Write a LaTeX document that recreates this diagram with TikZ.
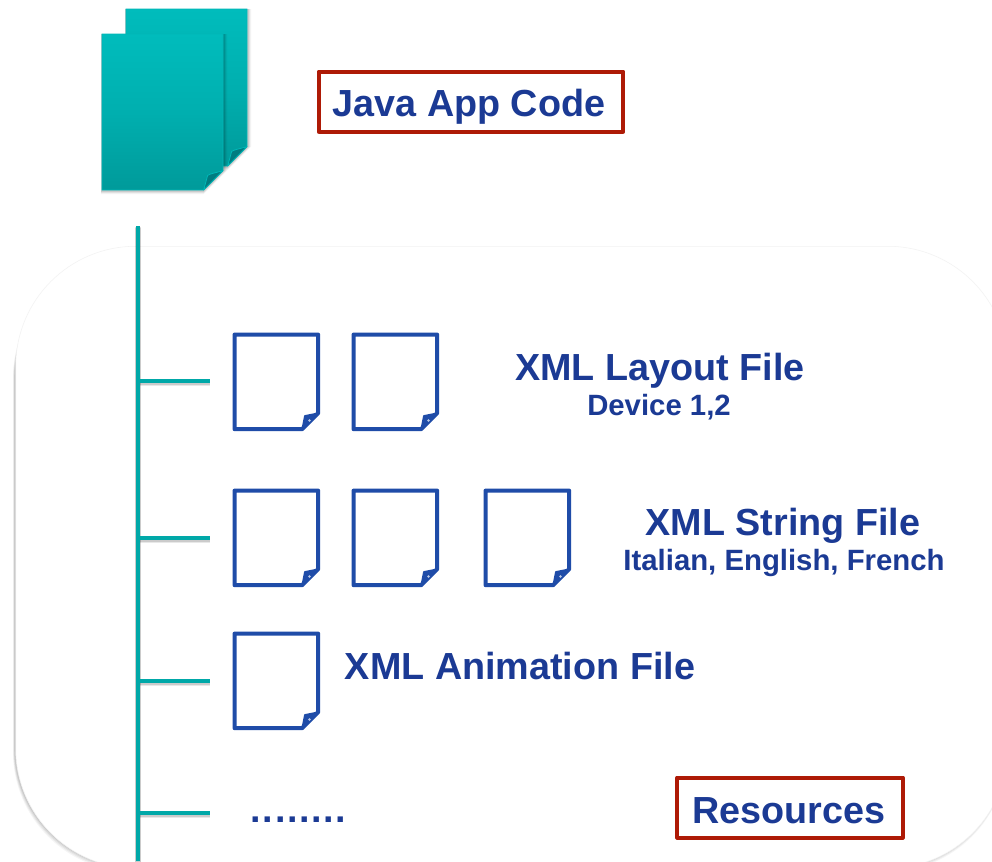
\documentclass[tikz,border=0pt]{standalone}
\usepackage{fontspec}
\setmainfont{Liberation Sans}
\definecolor{tealline}{HTML}{00A8A8}
\definecolor{tealtop}{HTML}{00BCBC}
\definecolor{tealbot}{HTML}{009A9A}
\definecolor{tealfold}{HTML}{007C80}
\definecolor{docblue}{HTML}{1F4CA8}
\definecolor{txtblue}{HTML}{1B3A94}
\definecolor{boxred}{HTML}{AE1A06}
\tikzset{
  x=0.75pt,y=-0.75pt,
  branch/.style={draw=tealline,line width=3pt},
  bigtext/.style={font=\fontsize{28.3}{32}\selectfont\bfseries,text=txtblue,inner sep=0pt},
  subtext/.style={font=\fontsize{22}{26}\selectfont\bfseries,text=txtblue,inner sep=0pt},
  redbox/.style={draw=boxred,line width=3pt,line join=round,fill=white,inner sep=0pt,minimum height=45pt},
  docanchor/.style={inner sep=0pt,minimum width=62.25pt,minimum height=70.5pt,anchor=north west},
}
% outlined document at given top-left corner, as a named node
\newcommand{\outlinedoc}[3]{%
  \node[docanchor] (#1) at (#2+1.6,#3+1.6) {};
  \draw[docblue,line width=3.1pt,line join=round,fill=white]
    (#1.north west) -- (#1.north east) -- ([yshift=12pt]#1.south east)
    -- ([xshift=-12pt]#1.south east) -- (#1.south west) -- cycle;
  \fill[docblue,line join=round,draw=docblue,line width=1pt]
    ([yshift=12pt]#1.south east) -- ([xshift=-10pt,yshift=10pt]#1.south east) -- ([xshift=-12pt]#1.south east) -- cycle;
  \fill[white!70!docblue] ([xshift=-6.5pt,yshift=6.5pt]#1.south east) circle (1pt);
}
% filled teal document
\newcommand{\tealdoc}[5]{% name, x1, y1, x2, y2
  \coordinate (#1nw) at (#2,#3);
  \coordinate (#1se) at (#4,#5);
  \foreach \s/\o in {3/0.05,2.2/0.07,1.4/0.09}{
    \fill[black,opacity=\o]
      ([shift={(-0.6pt,0pt)}]#1nw) -- ([shift={(\s pt,0pt)}]#1nw -| #1se)
      -- ([shift={(\s pt,14.5pt)}]#1se) -- ([shift={(-14.5pt,-\s pt)}]#1se)
      -- ([shift={(-0.6pt,-\s pt)}]#1nw |- #1se) -- cycle;
  }
  \shade[top color=tealtop,bottom color=tealbot,middle color=tealtop!62!tealbot]
    (#1nw) -- (#1nw -| #1se) -- ([yshift=14.5pt]#1se) -- ([xshift=-14.5pt]#1se) -- (#1nw |- #1se) -- cycle;
  \draw[tealtop!85!tealbot,line width=0.6pt]
    (#1nw) -- (#1nw -| #1se) -- ([yshift=14.5pt]#1se) -- ([xshift=-14.5pt]#1se) -- (#1nw |- #1se) -- cycle;
  \filldraw[fill=tealfold,draw=tealtop!85!tealbot,line width=0.6pt,line join=round]
    ([yshift=14.5pt]#1se) .. controls ([xshift=-5pt,yshift=13pt]#1se) and ([xshift=-9pt,yshift=12.5pt]#1se) .. ([xshift=-11.5pt,yshift=11pt]#1se)
    -- ([xshift=-14.5pt]#1se) -- cycle;
}
\begin{document}
\begin{tikzpicture}
\useasboundingbox (0,0) rectangle (992,861);
\fill[white] (0,0) rectangle (992,861);
\begin{scope}
\clip (0,0) rectangle (992,861);
% panel with soft shadow
\foreach \x/\s/\o in {13/3.6/0.04,13.4/2.7/0.05,13.8/1.8/0.06,14.2/0.9/0.07}{
  \fill[black,opacity=\o,rounded corners=90pt] (\x,258) rectangle ([yshift=-\s pt]1007,867);
}
\node[draw=black!5,line width=0.4pt,fill=white,rounded corners=90pt,inner sep=0pt,minimum width=744pt,minimum height=466.5pt,anchor=north west] (panel) at (15.5,246) {};
\end{scope}
% teal pages
\tealdoc{back}{126}{9}{247}{166}
\tealdoc{front}{102}{34}{223}{190}
% connectors
\coordinate (spinetop) at (138,226);
\coordinate (spinebot) at (138,861);
\coordinate (b1s) at (138,381); \coordinate (b1e) at (210,381);
\coordinate (b2s) at (138,538); \coordinate (b2e) at (210,538);
\coordinate (b3s) at (138,681); \coordinate (b3e) at (210,681);
\coordinate (b4s) at (138,813); \coordinate (b4e) at (210,813);
\begin{scope}
\clip (0,0) rectangle (992,861);
\foreach \a/\b in {spinetop/spinebot,b1s/b1e,b2s/b2e,b3s/b3e,b4s/b4e}{
  \draw[black,opacity=0.09,line width=5pt] ([shift={(0pt,-1.2pt)}]\a) -- ([shift={(0pt,-1.2pt)}]\b);
  \draw[black,opacity=0.12,line width=4pt] ([shift={(0pt,-0.8pt)}]\a) -- ([shift={(0pt,-0.8pt)}]\b);
}
\foreach \a/\b in {spinetop/spinebot,b1s/b1e,b2s/b2e,b3s/b3e,b4s/b4e}{
  \draw[branch] (\a) -- (\b);
}
\end{scope}
% outlined pages
\outlinedoc{d1a}{233}{333}
\outlinedoc{d1b}{352}{333}
\outlinedoc{d2a}{233}{489}
\outlinedoc{d2b}{352}{489}
\outlinedoc{d2c}{484}{489}
\outlinedoc{d3a}{233}{632}
% boxes
\node[redbox,minimum width=228.6pt] (java) at (471,101.5) {};
\node[bigtext] (javat) at (469,107) {Java App Code};
\node[redbox,minimum width=169pt] (res) at (790,807.5) {};
\node[bigtext] (rest) at (789,811) {Resources};
% labels
\node[bigtext] (l1) at (660,370.5) {XML Layout File};
\node[subtext] (l1s) at (659,407) {Device 1,2};
\node[bigtext] (l2) at (783,525.5) {XML String File};
\node[subtext] (l2s) at (784,563) {Italian, English, French};
\node[bigtext] (l3) at (520,666) {XML Animation File};
\node[bigtext,anchor=base west] (dots) at (250.4,822) {.\kern0.045em.\kern0.045em.\kern0.045em.\kern0.045em.\kern0.045em.\kern0.045em.\kern0.045em.};
\end{tikzpicture}
\end{document}
